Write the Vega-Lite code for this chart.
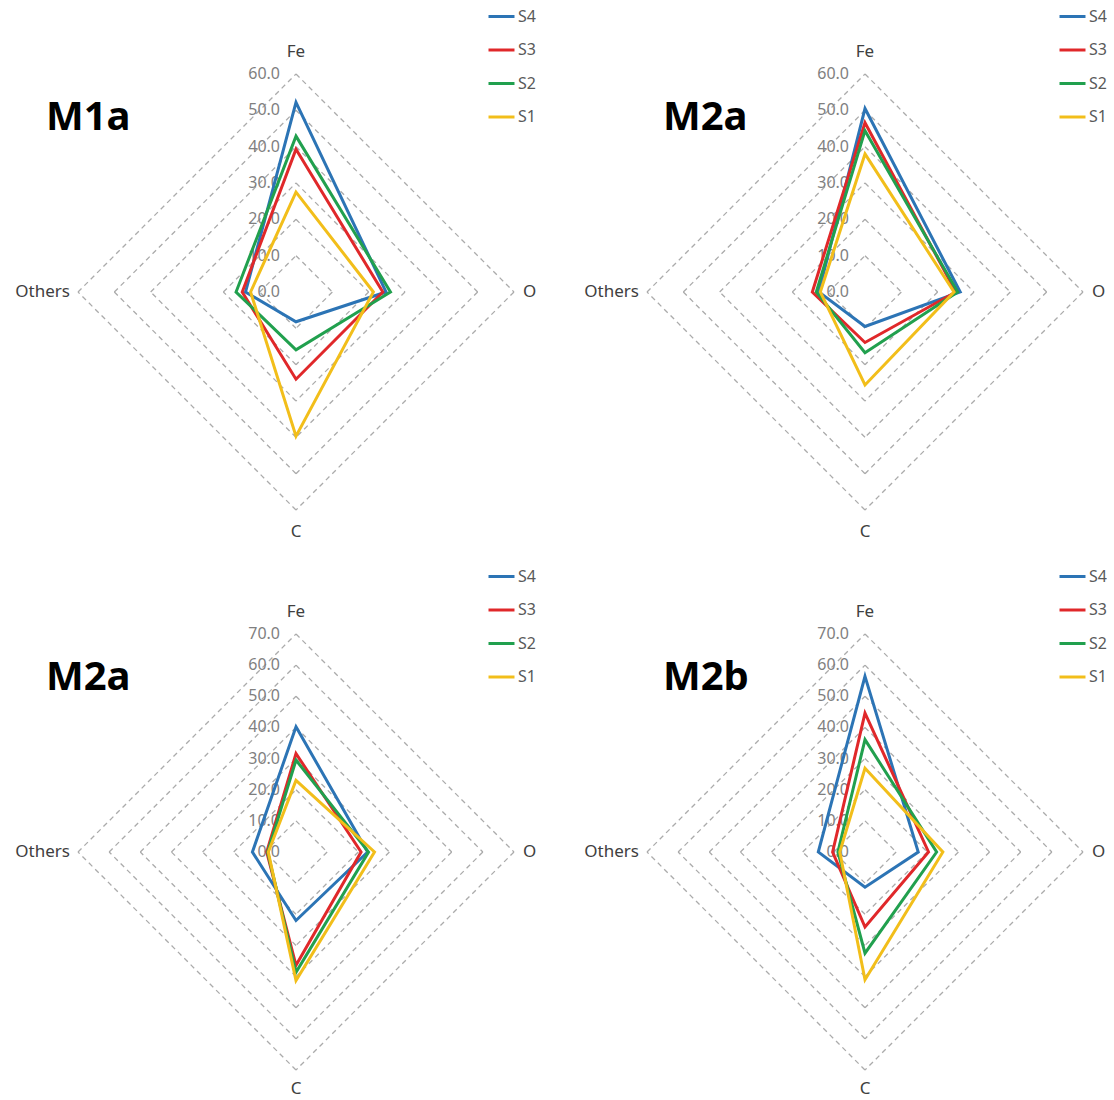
{
  "$schema": "https://vega.github.io/schema/vega-lite/v6.json",
  "background": "white",
  "padding": {"left": 15, "top": 2, "right": 0, "bottom": 8},
  "bounds": "flush",
  "config": {"view": {"stroke": null}, "font": "Noto Sans"},
  "datasets": {
    "radar": [
      {"panel": "P1", "sample": "S4", "element": "Fe", "value": 52.2},
      {"panel": "P1", "sample": "S4", "element": "O", "value": 24.8},
      {"panel": "P1", "sample": "S4", "element": "C", "value": 8.2},
      {"panel": "P1", "sample": "S4", "element": "Others", "value": 13.9},
      {"panel": "P1", "sample": "S3", "element": "Fe", "value": 39.3},
      {"panel": "P1", "sample": "S3", "element": "O", "value": 23.9},
      {"panel": "P1", "sample": "S3", "element": "C", "value": 24.0},
      {"panel": "P1", "sample": "S3", "element": "Others", "value": 14.8},
      {"panel": "P1", "sample": "S2", "element": "Fe", "value": 42.9},
      {"panel": "P1", "sample": "S2", "element": "O", "value": 26.0},
      {"panel": "P1", "sample": "S2", "element": "C", "value": 15.9},
      {"panel": "P1", "sample": "S2", "element": "Others", "value": 16.5},
      {"panel": "P1", "sample": "S1", "element": "Fe", "value": 27.5},
      {"panel": "P1", "sample": "S1", "element": "O", "value": 21.3},
      {"panel": "P1", "sample": "S1", "element": "C", "value": 39.7},
      {"panel": "P1", "sample": "S1", "element": "Others", "value": 12.5},
      {"panel": "P2", "sample": "S4", "element": "Fe", "value": 50.5},
      {"panel": "P2", "sample": "S4", "element": "O", "value": 26.2},
      {"panel": "P2", "sample": "S4", "element": "C", "value": 9.5},
      {"panel": "P2", "sample": "S4", "element": "Others", "value": 12.7},
      {"panel": "P2", "sample": "S3", "element": "Fe", "value": 46.6},
      {"panel": "P2", "sample": "S3", "element": "O", "value": 25.0},
      {"panel": "P2", "sample": "S3", "element": "C", "value": 13.9},
      {"panel": "P2", "sample": "S3", "element": "Others", "value": 14.5},
      {"panel": "P2", "sample": "S2", "element": "Fe", "value": 44.4},
      {"panel": "P2", "sample": "S2", "element": "O", "value": 25.5},
      {"panel": "P2", "sample": "S2", "element": "C", "value": 16.7},
      {"panel": "P2", "sample": "S2", "element": "Others", "value": 13.4},
      {"panel": "P2", "sample": "S1", "element": "Fe", "value": 38.0},
      {"panel": "P2", "sample": "S1", "element": "O", "value": 24.5},
      {"panel": "P2", "sample": "S1", "element": "C", "value": 25.6},
      {"panel": "P2", "sample": "S1", "element": "Others", "value": 12.3},
      {"panel": "P3", "sample": "S4", "element": "Fe", "value": 40.2},
      {"panel": "P3", "sample": "S4", "element": "O", "value": 23.0},
      {"panel": "P3", "sample": "S4", "element": "C", "value": 22.0},
      {"panel": "P3", "sample": "S4", "element": "Others", "value": 14.0},
      {"panel": "P3", "sample": "S3", "element": "Fe", "value": 31.6},
      {"panel": "P3", "sample": "S3", "element": "O", "value": 20.9},
      {"panel": "P3", "sample": "S3", "element": "C", "value": 36.4},
      {"panel": "P3", "sample": "S3", "element": "Others", "value": 9.4},
      {"panel": "P3", "sample": "S2", "element": "Fe", "value": 29.5},
      {"panel": "P3", "sample": "S2", "element": "O", "value": 23.3},
      {"panel": "P3", "sample": "S2", "element": "C", "value": 38.6},
      {"panel": "P3", "sample": "S2", "element": "Others", "value": 9.1},
      {"panel": "P3", "sample": "S1", "element": "Fe", "value": 23.0},
      {"panel": "P3", "sample": "S1", "element": "O", "value": 25.2},
      {"panel": "P3", "sample": "S1", "element": "C", "value": 41.3},
      {"panel": "P3", "sample": "S1", "element": "Others", "value": 8.9},
      {"panel": "P4", "sample": "S4", "element": "Fe", "value": 56.4},
      {"panel": "P4", "sample": "S4", "element": "O", "value": 17.1},
      {"panel": "P4", "sample": "S4", "element": "C", "value": 11.3},
      {"panel": "P4", "sample": "S4", "element": "Others", "value": 15.0},
      {"panel": "P4", "sample": "S3", "element": "Fe", "value": 44.6},
      {"panel": "P4", "sample": "S3", "element": "O", "value": 20.4},
      {"panel": "P4", "sample": "S3", "element": "C", "value": 24.1},
      {"panel": "P4", "sample": "S3", "element": "Others", "value": 10.4},
      {"panel": "P4", "sample": "S2", "element": "Fe", "value": 36.1},
      {"panel": "P4", "sample": "S2", "element": "O", "value": 23.0},
      {"panel": "P4", "sample": "S2", "element": "C", "value": 32.5},
      {"panel": "P4", "sample": "S2", "element": "Others", "value": 8.7},
      {"panel": "P4", "sample": "S1", "element": "Fe", "value": 26.9},
      {"panel": "P4", "sample": "S1", "element": "O", "value": 25.0},
      {"panel": "P4", "sample": "S1", "element": "C", "value": 41.0},
      {"panel": "P4", "sample": "S1", "element": "Others", "value": 8.1}
    ],
    "levels": [
      {"level": 0}, {"level": 10}, {"level": 20}, {"level": 30},
      {"level": 40}, {"level": 50}, {"level": 60}, {"level": 70}
    ],
    "axes": [
      {"element": "Fe"}, {"element": "O"}, {"element": "C"}, {"element": "Others"}
    ]
  },
  "columns": 2,
  "spacing": {"row": 124, "column": 133},
  "resolve": {"scale": {"color": "independent", "x": "independent", "y": "independent"}},
  "concat": [
    {
      "width": 436, "height": 436,
      "title": {"text": "M1a", "anchor": "start", "frame": "group", "fontSize": 40, "fontWeight": "bold", "font": "Noto Sans", "color": "#000000", "offset": 0, "baseline": "alphabetic", "dx": -32, "dy": 168},
      "layer": [
        {"data": {"name": "levels"}, "transform": [{"filter": "datum.level > 0 && datum.level <= 60"}, {"calculate": "-datum.level", "as": "neg"}, {"calculate": "0", "as": "zero"}],
         "layer": [
           {"mark": {"type": "rule", "strokeDash": [5, 4], "color": "#ABABAB", "strokeWidth": 1.3},
            "encoding": {"x": {"field": "zero", "type": "quantitative", "scale": {"domain": [-60, 60]}, "axis": null},
                         "y": {"field": "level", "type": "quantitative", "scale": {"domain": [-60, 60]}, "axis": null},
                         "x2": {"field": "level"}, "y2": {"field": "zero"}}},
           {"mark": {"type": "rule", "strokeDash": [5, 4], "color": "#ABABAB", "strokeWidth": 1.3},
            "encoding": {"x": {"field": "level", "type": "quantitative", "scale": {"domain": [-60, 60]}, "axis": null},
                         "y": {"field": "zero", "type": "quantitative", "scale": {"domain": [-60, 60]}, "axis": null},
                         "x2": {"field": "zero"}, "y2": {"field": "neg"}}},
           {"mark": {"type": "rule", "strokeDash": [5, 4], "color": "#ABABAB", "strokeWidth": 1.3},
            "encoding": {"x": {"field": "zero", "type": "quantitative", "scale": {"domain": [-60, 60]}, "axis": null},
                         "y": {"field": "neg", "type": "quantitative", "scale": {"domain": [-60, 60]}, "axis": null},
                         "x2": {"field": "neg"}, "y2": {"field": "zero"}}},
           {"mark": {"type": "rule", "strokeDash": [5, 4], "color": "#ABABAB", "strokeWidth": 1.3},
            "encoding": {"x": {"field": "neg", "type": "quantitative", "scale": {"domain": [-60, 60]}, "axis": null},
                         "y": {"field": "zero", "type": "quantitative", "scale": {"domain": [-60, 60]}, "axis": null},
                         "x2": {"field": "zero"}, "y2": {"field": "level"}}}
         ]},
        {"data": {"name": "levels"}, "transform": [{"filter": "datum.level <= 60"}, {"calculate": "0", "as": "zero"}],
         "mark": {"type": "text", "align": "right", "baseline": "middle", "dx": -16, "fontSize": 16, "color": "#7F7F7F"},
         "encoding": {"x": {"field": "zero", "type": "quantitative", "scale": {"domain": [-60, 60]}, "axis": null},
                      "y": {"field": "level", "type": "quantitative", "scale": {"domain": [-60, 60]}, "axis": null},
                      "text": {"field": "level", "type": "quantitative", "format": ".1f"}}},
        {"data": {"name": "axes"}, "transform": [{"calculate": "datum.element == 'O' ? 60 : datum.element == 'Others' ? -60 : 0", "as": "lx"}, {"calculate": "datum.element == 'Fe' ? 66 : datum.element == 'C' ? -66 : 0", "as": "ly"}],
         "layer": [
           {"transform": [{"filter": "datum.element == 'Fe' || datum.element == 'C'"}],
            "mark": {"type": "text", "align": "center", "baseline": "middle", "fontSize": 17, "color": "#404040"},
            "encoding": {"x": {"field": "lx", "type": "quantitative", "scale": {"domain": [-60, 60]}, "axis": null},
                         "y": {"field": "ly", "type": "quantitative", "scale": {"domain": [-60, 60]}, "axis": null},
                         "text": {"field": "element", "type": "nominal"}}},
           {"transform": [{"filter": "datum.element == 'O'"}],
            "mark": {"type": "text", "align": "left", "baseline": "middle", "dx": 9, "fontSize": 17, "color": "#404040"},
            "encoding": {"x": {"field": "lx", "type": "quantitative", "scale": {"domain": [-60, 60]}, "axis": null},
                         "y": {"field": "ly", "type": "quantitative", "scale": {"domain": [-60, 60]}, "axis": null},
                         "text": {"field": "element", "type": "nominal"}}},
           {"transform": [{"filter": "datum.element == 'Others'"}],
            "mark": {"type": "text", "align": "right", "baseline": "middle", "dx": -8, "fontSize": 17, "color": "#404040"},
            "encoding": {"x": {"field": "lx", "type": "quantitative", "scale": {"domain": [-60, 60]}, "axis": null},
                         "y": {"field": "ly", "type": "quantitative", "scale": {"domain": [-60, 60]}, "axis": null},
                         "text": {"field": "element", "type": "nominal"}}}
         ]},
        {"data": {"name": "radar"},
         "transform": [{"filter": "datum.panel == 'P1'"}, {"calculate": "indexof(['Fe','O','C','Others'], datum.element)", "as": "k"}, {"calculate": "datum.value*sin(datum.k*PI/2)", "as": "px"}, {"calculate": "datum.value*cos(datum.k*PI/2)", "as": "py"}],
         "mark": {"type": "line", "interpolate": "linear-closed", "strokeWidth": 3},
         "encoding": {"x": {"field": "px", "type": "quantitative", "scale": {"domain": [-60, 60]}, "axis": null},
                      "y": {"field": "py", "type": "quantitative", "scale": {"domain": [-60, 60]}, "axis": null},
                      "color": {"field": "sample", "type": "nominal", "scale": {"domain": ["S4", "S3", "S2", "S1"], "range": ["#2C74B5", "#E0282A", "#21A04E", "#F2BE1A"]},
                                "legend": {"orient": "none", "legendX": 409, "legendY": -72, "title": null, "symbolType": "stroke", "symbolSize": 676, "symbolStrokeWidth": 3, "labelFontSize": 16, "labelColor": "#595959", "rowPadding": 10.5, "labelOffset": 2, "padding": 0}},
                      "order": {"field": "k", "type": "quantitative"}}}
      ]
    },
    {
      "width": 436, "height": 436,
      "title": {"text": "M2a", "anchor": "start", "frame": "group", "fontSize": 40, "fontWeight": "bold", "font": "Noto Sans", "color": "#000000", "offset": 0, "baseline": "alphabetic", "dx": 16, "dy": 168},
      "layer": [
        {"data": {"name": "levels"}, "transform": [{"filter": "datum.level > 0 && datum.level <= 60"}, {"calculate": "-datum.level", "as": "neg"}, {"calculate": "0", "as": "zero"}],
         "layer": [
           {"mark": {"type": "rule", "strokeDash": [5, 4], "color": "#ABABAB", "strokeWidth": 1.3},
            "encoding": {"x": {"field": "zero", "type": "quantitative", "scale": {"domain": [-60, 60]}, "axis": null},
                         "y": {"field": "level", "type": "quantitative", "scale": {"domain": [-60, 60]}, "axis": null},
                         "x2": {"field": "level"}, "y2": {"field": "zero"}}},
           {"mark": {"type": "rule", "strokeDash": [5, 4], "color": "#ABABAB", "strokeWidth": 1.3},
            "encoding": {"x": {"field": "level", "type": "quantitative", "scale": {"domain": [-60, 60]}, "axis": null},
                         "y": {"field": "zero", "type": "quantitative", "scale": {"domain": [-60, 60]}, "axis": null},
                         "x2": {"field": "zero"}, "y2": {"field": "neg"}}},
           {"mark": {"type": "rule", "strokeDash": [5, 4], "color": "#ABABAB", "strokeWidth": 1.3},
            "encoding": {"x": {"field": "zero", "type": "quantitative", "scale": {"domain": [-60, 60]}, "axis": null},
                         "y": {"field": "neg", "type": "quantitative", "scale": {"domain": [-60, 60]}, "axis": null},
                         "x2": {"field": "neg"}, "y2": {"field": "zero"}}},
           {"mark": {"type": "rule", "strokeDash": [5, 4], "color": "#ABABAB", "strokeWidth": 1.3},
            "encoding": {"x": {"field": "neg", "type": "quantitative", "scale": {"domain": [-60, 60]}, "axis": null},
                         "y": {"field": "zero", "type": "quantitative", "scale": {"domain": [-60, 60]}, "axis": null},
                         "x2": {"field": "zero"}, "y2": {"field": "level"}}}
         ]},
        {"data": {"name": "levels"}, "transform": [{"filter": "datum.level <= 60"}, {"calculate": "0", "as": "zero"}],
         "mark": {"type": "text", "align": "right", "baseline": "middle", "dx": -16, "fontSize": 16, "color": "#7F7F7F"},
         "encoding": {"x": {"field": "zero", "type": "quantitative", "scale": {"domain": [-60, 60]}, "axis": null},
                      "y": {"field": "level", "type": "quantitative", "scale": {"domain": [-60, 60]}, "axis": null},
                      "text": {"field": "level", "type": "quantitative", "format": ".1f"}}},
        {"data": {"name": "axes"}, "transform": [{"calculate": "datum.element == 'O' ? 60 : datum.element == 'Others' ? -60 : 0", "as": "lx"}, {"calculate": "datum.element == 'Fe' ? 66 : datum.element == 'C' ? -66 : 0", "as": "ly"}],
         "layer": [
           {"transform": [{"filter": "datum.element == 'Fe' || datum.element == 'C'"}],
            "mark": {"type": "text", "align": "center", "baseline": "middle", "fontSize": 17, "color": "#404040"},
            "encoding": {"x": {"field": "lx", "type": "quantitative", "scale": {"domain": [-60, 60]}, "axis": null},
                         "y": {"field": "ly", "type": "quantitative", "scale": {"domain": [-60, 60]}, "axis": null},
                         "text": {"field": "element", "type": "nominal"}}},
           {"transform": [{"filter": "datum.element == 'O'"}],
            "mark": {"type": "text", "align": "left", "baseline": "middle", "dx": 9, "fontSize": 17, "color": "#404040"},
            "encoding": {"x": {"field": "lx", "type": "quantitative", "scale": {"domain": [-60, 60]}, "axis": null},
                         "y": {"field": "ly", "type": "quantitative", "scale": {"domain": [-60, 60]}, "axis": null},
                         "text": {"field": "element", "type": "nominal"}}},
           {"transform": [{"filter": "datum.element == 'Others'"}],
            "mark": {"type": "text", "align": "right", "baseline": "middle", "dx": -8, "fontSize": 17, "color": "#404040"},
            "encoding": {"x": {"field": "lx", "type": "quantitative", "scale": {"domain": [-60, 60]}, "axis": null},
                         "y": {"field": "ly", "type": "quantitative", "scale": {"domain": [-60, 60]}, "axis": null},
                         "text": {"field": "element", "type": "nominal"}}}
         ]},
        {"data": {"name": "radar"},
         "transform": [{"filter": "datum.panel == 'P2'"}, {"calculate": "indexof(['Fe','O','C','Others'], datum.element)", "as": "k"}, {"calculate": "datum.value*sin(datum.k*PI/2)", "as": "px"}, {"calculate": "datum.value*cos(datum.k*PI/2)", "as": "py"}],
         "mark": {"type": "line", "interpolate": "linear-closed", "strokeWidth": 3},
         "encoding": {"x": {"field": "px", "type": "quantitative", "scale": {"domain": [-60, 60]}, "axis": null},
                      "y": {"field": "py", "type": "quantitative", "scale": {"domain": [-60, 60]}, "axis": null},
                      "color": {"field": "sample", "type": "nominal", "scale": {"domain": ["S4", "S3", "S2", "S1"], "range": ["#2C74B5", "#E0282A", "#21A04E", "#F2BE1A"]},
                                "legend": {"orient": "none", "legendX": 411, "legendY": -72, "title": null, "symbolType": "stroke", "symbolSize": 676, "symbolStrokeWidth": 3, "labelFontSize": 16, "labelColor": "#595959", "rowPadding": 10.5, "labelOffset": 2, "padding": 0}},
                      "order": {"field": "k", "type": "quantitative"}}}
      ]
    },
    {
      "width": 436, "height": 436,
      "title": {"text": "M2a", "anchor": "start", "frame": "group", "fontSize": 40, "fontWeight": "bold", "font": "Noto Sans", "color": "#000000", "offset": 0, "baseline": "alphabetic", "dx": -32, "dy": 168},
      "layer": [
        {"data": {"name": "levels"}, "transform": [{"filter": "datum.level > 0 && datum.level <= 70"}, {"calculate": "-datum.level", "as": "neg"}, {"calculate": "0", "as": "zero"}],
         "layer": [
           {"mark": {"type": "rule", "strokeDash": [5, 4], "color": "#ABABAB", "strokeWidth": 1.3},
            "encoding": {"x": {"field": "zero", "type": "quantitative", "scale": {"domain": [-70, 70]}, "axis": null},
                         "y": {"field": "level", "type": "quantitative", "scale": {"domain": [-70, 70]}, "axis": null},
                         "x2": {"field": "level"}, "y2": {"field": "zero"}}},
           {"mark": {"type": "rule", "strokeDash": [5, 4], "color": "#ABABAB", "strokeWidth": 1.3},
            "encoding": {"x": {"field": "level", "type": "quantitative", "scale": {"domain": [-70, 70]}, "axis": null},
                         "y": {"field": "zero", "type": "quantitative", "scale": {"domain": [-70, 70]}, "axis": null},
                         "x2": {"field": "zero"}, "y2": {"field": "neg"}}},
           {"mark": {"type": "rule", "strokeDash": [5, 4], "color": "#ABABAB", "strokeWidth": 1.3},
            "encoding": {"x": {"field": "zero", "type": "quantitative", "scale": {"domain": [-70, 70]}, "axis": null},
                         "y": {"field": "neg", "type": "quantitative", "scale": {"domain": [-70, 70]}, "axis": null},
                         "x2": {"field": "neg"}, "y2": {"field": "zero"}}},
           {"mark": {"type": "rule", "strokeDash": [5, 4], "color": "#ABABAB", "strokeWidth": 1.3},
            "encoding": {"x": {"field": "neg", "type": "quantitative", "scale": {"domain": [-70, 70]}, "axis": null},
                         "y": {"field": "zero", "type": "quantitative", "scale": {"domain": [-70, 70]}, "axis": null},
                         "x2": {"field": "zero"}, "y2": {"field": "level"}}}
         ]},
        {"data": {"name": "levels"}, "transform": [{"filter": "datum.level <= 70"}, {"calculate": "0", "as": "zero"}],
         "mark": {"type": "text", "align": "right", "baseline": "middle", "dx": -16, "fontSize": 16, "color": "#7F7F7F"},
         "encoding": {"x": {"field": "zero", "type": "quantitative", "scale": {"domain": [-70, 70]}, "axis": null},
                      "y": {"field": "level", "type": "quantitative", "scale": {"domain": [-70, 70]}, "axis": null},
                      "text": {"field": "level", "type": "quantitative", "format": ".1f"}}},
        {"data": {"name": "axes"}, "transform": [{"calculate": "datum.element == 'O' ? 70 : datum.element == 'Others' ? -70 : 0", "as": "lx"}, {"calculate": "datum.element == 'Fe' ? 77 : datum.element == 'C' ? -76 : 0", "as": "ly"}],
         "layer": [
           {"transform": [{"filter": "datum.element == 'Fe' || datum.element == 'C'"}],
            "mark": {"type": "text", "align": "center", "baseline": "middle", "fontSize": 17, "color": "#404040"},
            "encoding": {"x": {"field": "lx", "type": "quantitative", "scale": {"domain": [-70, 70]}, "axis": null},
                         "y": {"field": "ly", "type": "quantitative", "scale": {"domain": [-70, 70]}, "axis": null},
                         "text": {"field": "element", "type": "nominal"}}},
           {"transform": [{"filter": "datum.element == 'O'"}],
            "mark": {"type": "text", "align": "left", "baseline": "middle", "dx": 9, "fontSize": 17, "color": "#404040"},
            "encoding": {"x": {"field": "lx", "type": "quantitative", "scale": {"domain": [-70, 70]}, "axis": null},
                         "y": {"field": "ly", "type": "quantitative", "scale": {"domain": [-70, 70]}, "axis": null},
                         "text": {"field": "element", "type": "nominal"}}},
           {"transform": [{"filter": "datum.element == 'Others'"}],
            "mark": {"type": "text", "align": "right", "baseline": "middle", "dx": -8, "fontSize": 17, "color": "#404040"},
            "encoding": {"x": {"field": "lx", "type": "quantitative", "scale": {"domain": [-70, 70]}, "axis": null},
                         "y": {"field": "ly", "type": "quantitative", "scale": {"domain": [-70, 70]}, "axis": null},
                         "text": {"field": "element", "type": "nominal"}}}
         ]},
        {"data": {"name": "radar"},
         "transform": [{"filter": "datum.panel == 'P3'"}, {"calculate": "indexof(['Fe','O','C','Others'], datum.element)", "as": "k"}, {"calculate": "datum.value*sin(datum.k*PI/2)", "as": "px"}, {"calculate": "datum.value*cos(datum.k*PI/2)", "as": "py"}],
         "mark": {"type": "line", "interpolate": "linear-closed", "strokeWidth": 3},
         "encoding": {"x": {"field": "px", "type": "quantitative", "scale": {"domain": [-70, 70]}, "axis": null},
                      "y": {"field": "py", "type": "quantitative", "scale": {"domain": [-70, 70]}, "axis": null},
                      "color": {"field": "sample", "type": "nominal", "scale": {"domain": ["S4", "S3", "S2", "S1"], "range": ["#2C74B5", "#E0282A", "#21A04E", "#F2BE1A"]},
                                "legend": {"orient": "none", "legendX": 409, "legendY": -72, "title": null, "symbolType": "stroke", "symbolSize": 676, "symbolStrokeWidth": 3, "labelFontSize": 16, "labelColor": "#595959", "rowPadding": 10.5, "labelOffset": 2, "padding": 0}},
                      "order": {"field": "k", "type": "quantitative"}}}
      ]
    },
    {
      "width": 436, "height": 436,
      "title": {"text": "M2b", "anchor": "start", "frame": "group", "fontSize": 40, "fontWeight": "bold", "font": "Noto Sans", "color": "#000000", "offset": 0, "baseline": "alphabetic", "dx": 16, "dy": 168},
      "layer": [
        {"data": {"name": "levels"}, "transform": [{"filter": "datum.level > 0 && datum.level <= 70"}, {"calculate": "-datum.level", "as": "neg"}, {"calculate": "0", "as": "zero"}],
         "layer": [
           {"mark": {"type": "rule", "strokeDash": [5, 4], "color": "#ABABAB", "strokeWidth": 1.3},
            "encoding": {"x": {"field": "zero", "type": "quantitative", "scale": {"domain": [-70, 70]}, "axis": null},
                         "y": {"field": "level", "type": "quantitative", "scale": {"domain": [-70, 70]}, "axis": null},
                         "x2": {"field": "level"}, "y2": {"field": "zero"}}},
           {"mark": {"type": "rule", "strokeDash": [5, 4], "color": "#ABABAB", "strokeWidth": 1.3},
            "encoding": {"x": {"field": "level", "type": "quantitative", "scale": {"domain": [-70, 70]}, "axis": null},
                         "y": {"field": "zero", "type": "quantitative", "scale": {"domain": [-70, 70]}, "axis": null},
                         "x2": {"field": "zero"}, "y2": {"field": "neg"}}},
           {"mark": {"type": "rule", "strokeDash": [5, 4], "color": "#ABABAB", "strokeWidth": 1.3},
            "encoding": {"x": {"field": "zero", "type": "quantitative", "scale": {"domain": [-70, 70]}, "axis": null},
                         "y": {"field": "neg", "type": "quantitative", "scale": {"domain": [-70, 70]}, "axis": null},
                         "x2": {"field": "neg"}, "y2": {"field": "zero"}}},
           {"mark": {"type": "rule", "strokeDash": [5, 4], "color": "#ABABAB", "strokeWidth": 1.3},
            "encoding": {"x": {"field": "neg", "type": "quantitative", "scale": {"domain": [-70, 70]}, "axis": null},
                         "y": {"field": "zero", "type": "quantitative", "scale": {"domain": [-70, 70]}, "axis": null},
                         "x2": {"field": "zero"}, "y2": {"field": "level"}}}
         ]},
        {"data": {"name": "levels"}, "transform": [{"filter": "datum.level <= 70"}, {"calculate": "0", "as": "zero"}],
         "mark": {"type": "text", "align": "right", "baseline": "middle", "dx": -16, "fontSize": 16, "color": "#7F7F7F"},
         "encoding": {"x": {"field": "zero", "type": "quantitative", "scale": {"domain": [-70, 70]}, "axis": null},
                      "y": {"field": "level", "type": "quantitative", "scale": {"domain": [-70, 70]}, "axis": null},
                      "text": {"field": "level", "type": "quantitative", "format": ".1f"}}},
        {"data": {"name": "axes"}, "transform": [{"calculate": "datum.element == 'O' ? 70 : datum.element == 'Others' ? -70 : 0", "as": "lx"}, {"calculate": "datum.element == 'Fe' ? 77 : datum.element == 'C' ? -76 : 0", "as": "ly"}],
         "layer": [
           {"transform": [{"filter": "datum.element == 'Fe' || datum.element == 'C'"}],
            "mark": {"type": "text", "align": "center", "baseline": "middle", "fontSize": 17, "color": "#404040"},
            "encoding": {"x": {"field": "lx", "type": "quantitative", "scale": {"domain": [-70, 70]}, "axis": null},
                         "y": {"field": "ly", "type": "quantitative", "scale": {"domain": [-70, 70]}, "axis": null},
                         "text": {"field": "element", "type": "nominal"}}},
           {"transform": [{"filter": "datum.element == 'O'"}],
            "mark": {"type": "text", "align": "left", "baseline": "middle", "dx": 9, "fontSize": 17, "color": "#404040"},
            "encoding": {"x": {"field": "lx", "type": "quantitative", "scale": {"domain": [-70, 70]}, "axis": null},
                         "y": {"field": "ly", "type": "quantitative", "scale": {"domain": [-70, 70]}, "axis": null},
                         "text": {"field": "element", "type": "nominal"}}},
           {"transform": [{"filter": "datum.element == 'Others'"}],
            "mark": {"type": "text", "align": "right", "baseline": "middle", "dx": -8, "fontSize": 17, "color": "#404040"},
            "encoding": {"x": {"field": "lx", "type": "quantitative", "scale": {"domain": [-70, 70]}, "axis": null},
                         "y": {"field": "ly", "type": "quantitative", "scale": {"domain": [-70, 70]}, "axis": null},
                         "text": {"field": "element", "type": "nominal"}}}
         ]},
        {"data": {"name": "radar"},
         "transform": [{"filter": "datum.panel == 'P4'"}, {"calculate": "indexof(['Fe','O','C','Others'], datum.element)", "as": "k"}, {"calculate": "datum.value*sin(datum.k*PI/2)", "as": "px"}, {"calculate": "datum.value*cos(datum.k*PI/2)", "as": "py"}],
         "mark": {"type": "line", "interpolate": "linear-closed", "strokeWidth": 3},
         "encoding": {"x": {"field": "px", "type": "quantitative", "scale": {"domain": [-70, 70]}, "axis": null},
                      "y": {"field": "py", "type": "quantitative", "scale": {"domain": [-70, 70]}, "axis": null},
                      "color": {"field": "sample", "type": "nominal", "scale": {"domain": ["S4", "S3", "S2", "S1"], "range": ["#2C74B5", "#E0282A", "#21A04E", "#F2BE1A"]},
                                "legend": {"orient": "none", "legendX": 411, "legendY": -72, "title": null, "symbolType": "stroke", "symbolSize": 676, "symbolStrokeWidth": 3, "labelFontSize": 16, "labelColor": "#595959", "rowPadding": 10.5, "labelOffset": 2, "padding": 0}},
                      "order": {"field": "k", "type": "quantitative"}}}
      ]
    }
  ]
}
